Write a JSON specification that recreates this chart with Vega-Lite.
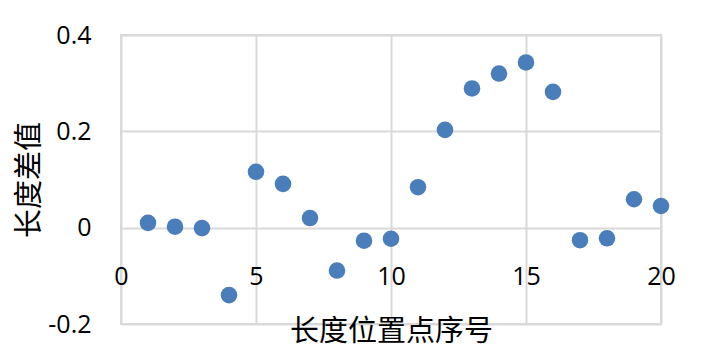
{
  "$schema": "https://vega.github.io/schema/vega-lite/v6.json",
  "width": 540,
  "height": 289,
  "autosize": {"type": "none"},
  "padding": {"left": 121, "top": 35, "right": 47, "bottom": 34},
  "background": "white",
  "config": {
    "view": {"stroke": "#d9d9d9", "strokeWidth": 2},
    "axis": {"gridColor": "#d9d9d9", "gridWidth": 2, "labelFont": "Open Sans", "labelFontSize": 25, "labelColor": "#000000", "titleFont": "Noto Sans CJK SC", "titleFontWeight": "normal", "titleColor": "#000000", "titleFontSize": 29}
  },
  "data": {
    "values": [
      {"n": 1, "d": 0.010},
      {"n": 2, "d": 0.002},
      {"n": 3, "d": -0.001},
      {"n": 4, "d": -0.140},
      {"n": 5, "d": 0.116},
      {"n": 6, "d": 0.091},
      {"n": 7, "d": 0.020},
      {"n": 8, "d": -0.089},
      {"n": 9, "d": -0.027},
      {"n": 10, "d": -0.023},
      {"n": 11, "d": 0.084},
      {"n": 12, "d": 0.203},
      {"n": 13, "d": 0.289},
      {"n": 14, "d": 0.320},
      {"n": 15, "d": 0.343},
      {"n": 16, "d": 0.282},
      {"n": 17, "d": -0.026},
      {"n": 18, "d": -0.022},
      {"n": 19, "d": 0.059},
      {"n": 20, "d": 0.045}
    ]
  },
  "mark": {"type": "point", "filled": true, "opacity": 1, "size": 275, "color": "#4A7EBB", "strokeWidth": 0},
  "encoding": {
    "x": {
      "field": "n", "type": "quantitative",
      "scale": {"domain": [0, 20], "nice": false, "zero": false},
      "axis": {"title": "长度位置点序号", "values": [0, 5, 10, 15, 20], "grid": true, "domain": false, "ticks": false, "tickSize": 0, "offset": -96, "labelPadding": 36, "labelFlush": false, "titleY": 103, "titleBaseline": "middle"}
    },
    "y": {
      "field": "d", "type": "quantitative",
      "scale": {"domain": [-0.2, 0.4], "nice": false, "zero": false},
      "axis": {"title": "长度差值", "values": [-0.2, 0, 0.2, 0.4], "format": ".1~f", "labelExpr": "replace(datum.label, '−', '-')", "grid": true, "domain": false, "ticks": false, "tickSize": 0, "labelPadding": 30, "labelFlush": false, "titleX": -92, "titleBaseline": "middle", "titleAngle": -90}
    }
  }
}
